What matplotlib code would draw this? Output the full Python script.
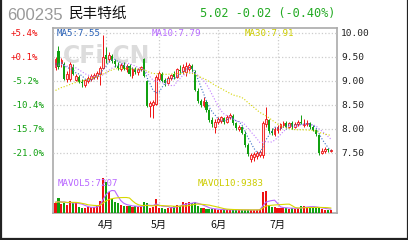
import matplotlib
matplotlib.use("Agg")
import matplotlib.pyplot as plt
import matplotlib.transforms as mtransforms
import numpy as np
import pandas as pd

# daily candles, mid March .. end of July
opens = [9.30, 9.62, 9.38, 9.35, 9.05, 9.05, 9.30, 9.02, 9.08, 8.98,
         8.92, 9.00, 9.05, 9.08, 9.10, 9.15, 9.28, 9.55, 9.45, 9.52,
         9.42, 9.32, 9.26, 9.34, 9.24, 9.32, 9.12, 9.26, 9.18, 9.24,
         9.45, 9.00, 8.48, 8.50, 8.52, 9.05, 9.14, 9.02, 8.95, 9.06,
         9.14, 9.08, 9.22, 9.20, 9.18, 9.25, 9.32, 9.18, 8.80, 8.58,
         8.50, 8.56, 8.40, 8.18, 8.05, 8.15, 8.16, 8.22, 8.14, 8.24,
         8.28, 8.12, 8.00, 8.04, 7.90, 7.66, 7.38, 7.42, 7.44, 7.46,
         7.45, 8.10, 8.18, 7.96, 7.90, 7.98, 8.02, 8.08, 8.12, 8.05,
         8.12, 8.04, 8.10, 8.14, 8.08, 8.10, 8.12, 8.05, 7.98, 7.88,
         7.50, 7.54, 7.59, 7.55]
highs = [9.50, 9.72, 9.48, 9.40, 9.20, 9.40, 9.36, 9.14, 9.12, 9.05,
         9.05, 9.10, 9.14, 9.16, 9.20, 9.32, 9.96, 9.70, 9.60, 9.56,
         9.46, 9.40, 9.38, 9.40, 9.36, 9.35, 9.30, 9.30, 9.28, 9.32,
         9.48, 9.02, 8.58, 8.60, 9.12, 9.20, 9.18, 9.06, 9.10, 9.15,
         9.20, 9.28, 9.34, 9.36, 9.40, 9.38, 9.36, 9.22, 8.85, 8.62,
         8.66, 8.60, 8.42, 8.25, 8.20, 8.25, 8.28, 8.26, 8.30, 8.34,
         8.32, 8.15, 8.08, 8.06, 7.95, 7.70, 7.50, 7.52, 7.54, 7.56,
         8.16, 8.46, 8.20, 8.02, 8.04, 8.08, 8.12, 8.16, 8.16, 8.15,
         8.16, 8.14, 8.18, 8.30, 8.20, 8.18, 8.15, 8.08, 8.00, 7.90,
         7.60, 7.62, 7.60, 7.58]
lows = [9.22, 9.25, 9.30, 9.02, 8.98, 9.00, 9.12, 9.00, 8.95, 8.88,
        8.88, 8.95, 9.00, 9.04, 9.05, 8.92, 9.25, 9.38, 9.40, 9.38,
        9.30, 9.22, 9.20, 9.22, 9.18, 9.10, 9.06, 9.14, 9.12, 9.20,
        9.08, 8.46, 8.25, 8.22, 8.50, 9.00, 8.98, 8.90, 8.92, 9.02,
        9.05, 9.06, 9.15, 9.15, 9.10, 9.20, 9.18, 8.80, 8.55, 8.45,
        8.45, 8.36, 8.15, 8.05, 7.92, 8.10, 8.12, 8.10, 8.12, 8.20,
        8.08, 7.98, 7.96, 7.90, 7.62, 7.44, 7.32, 7.34, 7.38, 7.42,
        7.40, 8.05, 7.92, 7.88, 7.86, 7.92, 7.98, 8.04, 8.00, 8.02,
        8.00, 8.02, 8.06, 8.10, 8.04, 8.06, 8.00, 7.96, 7.86, 7.46,
        7.48, 7.50, 7.52, 7.52]
closes = [9.45, 9.30, 9.44, 9.05, 9.15, 9.35, 9.15, 9.10, 8.98, 8.95,
          9.02, 9.06, 9.10, 9.12, 9.16, 9.28, 9.50, 9.45, 9.55, 9.42,
          9.35, 9.28, 9.34, 9.25, 9.32, 9.15, 9.26, 9.18, 9.24, 9.30,
          9.10, 8.48, 8.55, 8.56, 9.08, 9.16, 9.00, 8.95, 9.06, 9.12,
          9.08, 9.24, 9.20, 9.30, 9.32, 9.33, 9.24, 8.82, 8.58, 8.50,
          8.58, 8.40, 8.18, 8.10, 8.15, 8.20, 8.24, 8.14, 8.26, 8.30,
          8.12, 8.02, 8.05, 7.92, 7.66, 7.48, 7.46, 7.48, 7.50, 7.52,
          8.12, 8.20, 7.96, 7.92, 8.00, 8.04, 8.10, 8.12, 8.05, 8.12,
          8.04, 8.10, 8.14, 8.12, 8.10, 8.12, 8.05, 7.98, 7.90, 7.50,
          7.55, 7.58, 7.57, 7.55]
volumes = [19000, 28000, 17000, 18000, 15000, 22000, 21000, 20000, 11000, 10000,
           9000, 11000, 12000, 12000, 13000, 22000, 66000, 58000, 40000, 26000,
           20000, 18000, 15000, 14000, 13000, 13000, 12000, 13000, 12000, 12000,
           20000, 18000, 10000, 11000, 26000, 9000, 9000, 8000, 10000, 12000,
           14000, 15000, 14000, 21000, 18000, 20000, 19000, 21000, 14000, 10000,
           9000, 8000, 8000, 7000, 7000, 6000, 6000, 6000, 6000, 6000,
           6000, 6000, 5500, 5500, 6000, 6000, 5500, 5500, 6000, 7000,
           40000, 42000, 16000, 12000, 11000, 10000, 9000, 9000, 10000, 8000,
           9000, 8000, 9000, 13000, 14000, 12000, 11000, 10500, 10300, 9500,
           7000, 6500, 6500, 6500]

# history before the window, only used by the moving averages
warmup_close = [8.45, 8.50, 8.48, 8.52, 8.55, 8.50, 8.46, 8.52, 8.58, 8.55,
                8.50, 8.54, 8.60, 8.58, 8.62, 8.56, 8.60, 8.65, 8.62, 8.68,
                9.10, 9.25, 9.30, 9.28, 9.35, 9.32, 9.30, 9.38, 9.34]
warmup_vol = [20000, 22000, 18000, 21000, 19000, 23000, 20000, 18000, 22000]

month_idx = [17, 35, 55, 75]
month_labels = ["4月", "5月", "6月", "7月"]
price_levels = [10.00, 9.50, 9.00, 8.50, 8.00, 7.50]
pct_labels = ["+5.4%", "+0.1%", "-5.2%", "-10.4%", "-15.7%", "-21.0%"]

RED = "#ee1111"
GREEN = "#11a011"
MONO = "DejaVu Sans Mono"
CJK = ["Noto Sans CJK SC", "DejaVu Sans"]

n = len(closes)
x = np.arange(n)
o = np.array(opens); h = np.array(highs); l = np.array(lows); c = np.array(closes)
up = c >= o

cs = pd.Series(warmup_close + closes)
ma5 = cs.rolling(5).mean().values[-n:]
ma10 = cs.rolling(10).mean().values[-n:]
ma30 = cs.rolling(30).mean().values[-n:]
vs = pd.Series(warmup_vol + volumes)
mav5 = vs.rolling(5).mean().values[-n:]
mav10 = vs.rolling(10).mean().values[-n:]

W, H = 408, 240
fig = plt.figure(figsize=(W / 100, H / 100), dpi=100)
fig.patch.set_facecolor("white")

def box(x0, y0, x1, y1):
    # pixel box (top-left origin) -> figure fraction rect
    return [x0 / W, 1 - y1 / H, (x1 - x0) / W, (y1 - y0) / H]

xl = (-0.85, 95.1)

# frame with month grid lines
frame = fig.add_axes(box(53, 28, 337, 213))
frame.set_xlim(*xl); frame.set_ylim(0, 1)
frame.set_xticks([]); frame.set_yticks([])
for s in frame.spines.values():
    s.set_color("#aaaaaa"); s.set_linewidth(1.2)
for m in month_idx:
    frame.axvline(m, color="#cccccc", ls=":", lw=0.9)

# price panel
ax = fig.add_axes(box(53, 28, 337, 170))
ax.patch.set_alpha(0)
ax.set_xlim(*xl)
ax.set_ylim(10 - 137 / 48, 10 + 5 / 48)
ax.axis("off")
for p in price_levels:
    ax.axhline(p, color="#cccccc", ls=":", lw=0.9, zorder=0)

ax.text(0.19, 0.80, "CFi.CN", transform=ax.transAxes, fontsize=17, fontweight="bold",
        color="#dcdcdc", ha="center", va="center", zorder=0.5)

ax.vlines(x, l, h, colors=np.where(up, RED, GREEN), lw=0.7, zorder=2)
ax.bar(x[up], np.maximum(c[up] - o[up], 0.012), bottom=o[up], width=0.62,
       facecolor="#ffe0e0", edgecolor=RED, lw=0.6, zorder=3)
ax.bar(x[~up], o[~up] - c[~up], bottom=c[~up], width=0.7,
       color=GREEN, lw=0, zorder=3)

ax.plot(x, ma5, color="#3a6fc4", ls=":", lw=0.8, zorder=4)
ax.plot(x, ma10, color="#c27cff", ls=":", lw=0.8, zorder=4)
ax.plot(x, ma30, color="#d4d400", ls=":", lw=0.8, zorder=4)

# side labels: x in figure fraction, y in price units
tr_side = mtransforms.blended_transform_factory(fig.transFigure, ax.transData)
for p, t in zip(price_levels, pct_labels):
    col = RED if t.startswith("+") else GREEN
    fig.text(11 / W, p, t, transform=tr_side, fontsize=6.6, family=MONO,
             color=col, va="center", ha="left")
    fig.text(341 / W, p, "%.2f" % p, transform=tr_side, fontsize=6.8, family=MONO,
             color="#222222", va="center", ha="left")

tr_top = mtransforms.blended_transform_factory(ax.transAxes, ax.transData)
ax.text(0.012, 10.0, "MA5:7.55", fontsize=6.6, family=MONO, color="#2a62b8",
        va="center", transform=tr_top)
ax.text(0.348, 10.0, "MA10:7.79", fontsize=6.6, family=MONO, color="#b86cff",
        va="center", transform=tr_top)
ax.text(0.675, 10.0, "MA30:7.91", fontsize=6.6, family=MONO, color="#cccc00",
        va="center", transform=tr_top)

# volume panel
vax = fig.add_axes(box(53, 178, 337, 213))
vax.patch.set_alpha(0)
vax.set_xlim(*xl)
vax.set_ylim(0, 66000)
vax.axis("off")
vax.bar(x, volumes, width=0.7, color=np.where(up, RED, GREEN), lw=0, zorder=2)
vax.plot(x, mav5, color="#b866ff", lw=0.8, zorder=3)
vax.plot(x, mav10, color="#d8d800", lw=0.8, zorder=3)
fig.text(58 / W, 1 - 183 / H, "MAVOL5:7207", fontsize=6.6, family=MONO,
         color="#b866ff", va="center", ha="left")
fig.text(198 / W, 1 - 183 / H, "MAVOL10:9383", fontsize=6.6, family=MONO,
         color="#cccc00", va="center", ha="left")

# month labels
for m, t in zip(month_idx, month_labels):
    frame.text(m, -0.04, t, fontsize=7.5, family=CJK, color="#111111",
               ha="center", va="top")

# header
fig.text(7 / W, 1 - 15 / H, "600235", fontsize=12, family="Liberation Sans",
         color="#999999", va="center", ha="left")
fig.text(69 / W, 1 - 14 / H, "民丰特纸", fontsize=10.5, family=CJK,
         color="#111111", va="center", ha="left")
fig.text(200 / W, 1 - 14 / H, "5.02 -0.02 (-0.40%)", fontsize=8.6, family=MONO,
         color="#22aa22", va="center", ha="left")

# outer border (left, right, bottom)
for xs, ys in [([0.5 / W, 0.5 / W], [0, 1]), ([1 - 0.5 / W, 1 - 0.5 / W], [0, 1]),
               ([0, 1], [0.6 / H, 0.6 / H])]:
    fig.add_artist(plt.Line2D(xs, ys, color="#222222", lw=1.6,
                              transform=fig.transFigure))

fig.savefig("out.png", dpi=100, facecolor="white")
